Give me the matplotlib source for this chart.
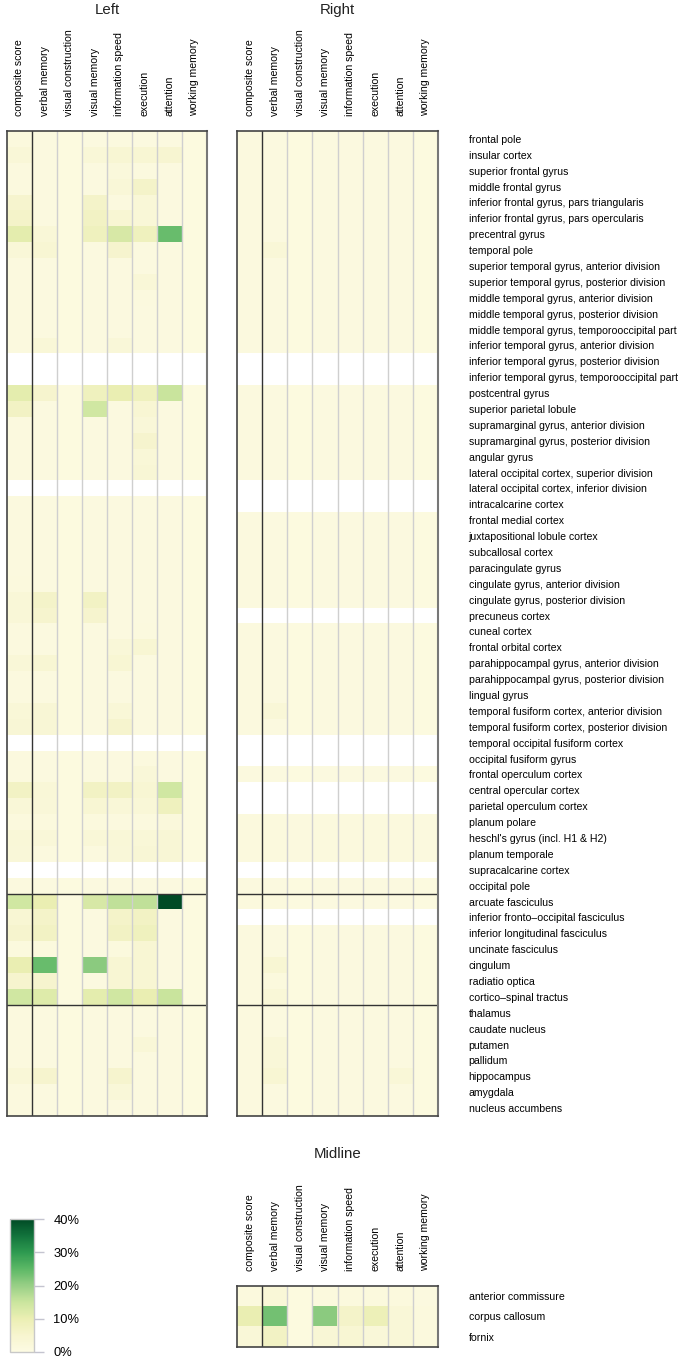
import numpy as np
import matplotlib
matplotlib.use("Agg")
import matplotlib.pyplot as plt
from matplotlib.colors import LinearSegmentedColormap, Normalize
from matplotlib.cm import ScalarMappable

plt.rcParams['font.family'] = ['Liberation Sans', 'DejaVu Sans']
plt.rcParams['text.color'] = '#222222'

# ---- data -------------------------------------------------------------
domains = ["composite score", "verbal memory", "visual construction", "visual memory",
           "information speed", "execution", "attention", "working memory"]

regions = [
    "frontal pole", "insular cortex", "superior frontal gyrus", "middle frontal gyrus",
    "inferior frontal gyrus, pars triangularis", "inferior frontal gyrus, pars opercularis",
    "precentral gyrus", "temporal pole", "superior temporal gyrus, anterior division",
    "superior temporal gyrus, posterior division", "middle temporal gyrus, anterior division",
    "middle temporal gyrus, posterior division", "middle temporal gyrus, temporooccipital part",
    "inferior temporal gyrus, anterior division", "inferior temporal gyrus, posterior division",
    "inferior temporal gyrus, temporooccipital part", "postcentral gyrus",
    "superior parietal lobule", "supramarginal gyrus, anterior division",
    "supramarginal gyrus, posterior division", "angular gyrus",
    "lateral occipital cortex, superior division", "lateral occipital cortex, inferior division",
    "intracalcarine cortex", "frontal medial cortex", "juxtapositional lobule cortex",
    "subcallosal cortex", "paracingulate gyrus", "cingulate gyrus, anterior division",
    "cingulate gyrus, posterior division", "precuneus cortex", "cuneal cortex",
    "frontal orbital cortex", "parahippocampal gyrus, anterior division",
    "parahippocampal gyrus, posterior division", "lingual gyrus",
    "temporal fusiform cortex, anterior division", "temporal fusiform cortex, posterior division",
    "temporal occipital fusiform cortex", "occipital fusiform gyrus", "frontal operculum cortex",
    "central opercular cortex", "parietal operculum cortex", "planum polare",
    "heschl's gyrus (incl. H1 & H2)", "planum temporale", "supracalcarine cortex",
    "occipital pole",
    "arcuate fasciculus", "inferior fronto\u2013occipital fasciculus",
    "inferior longitudinal fasciculus", "uncinate fasciculus", "cingulum", "radiatio optica",
    "cortico\u2013spinal tractus",
    "thalamus", "caudate nucleus", "putamen", "pallidum", "hippocampus", "amygdala",
    "nucleus accumbens",
]
group_breaks = [48, 55]

midline_regions = ["anterior commissure", "corpus callosum", "fornix"]

NA = np.nan
# percent of patients with lesion in region among impaired, per domain
left_values = [
    [1.5, 1.0, 0.8, 1.0, 1.2, 1.0, 1.0, 0.8],
    [3.0, 1.0, 0.8, 3.0, 4.0, 4.0, 4.5, 0.8],
    [1.2, 1.0, 0.8, 1.0, 2.0, 1.2, 1.0, 0.8],
    [1.2, 1.0, 0.8, 1.0, 3.0, 6.0, 1.0, 0.8],
    [5.0, 1.0, 0.8, 6.0, 1.2, 3.0, 1.0, 0.8],
    [6.0, 1.0, 0.8, 7.0, 4.0, 3.0, 1.0, 0.8],
    [11.0, 3.0, 0.8, 8.0, 13.0, 8.0, 24.0, 0.8],
    [3.0, 4.0, 0.8, 1.0, 5.0, 1.0, 1.0, 0.8],
    [1.2, 1.0, 0.8, 1.0, 1.0, 1.0, 1.0, 0.8],
    [1.2, 1.0, 0.8, 1.0, 1.0, 3.0, 1.0, 0.8],
    [1.2, 1.0, 0.8, 1.0, 1.0, 1.2, 1.0, 0.8],
    [1.2, 1.0, 0.8, 1.0, 1.0, 1.0, 1.0, 0.8],
    [1.2, 1.0, 0.8, 1.0, 1.0, 1.0, 1.0, 0.8],
    [1.2, 3.0, 0.8, 1.0, 2.5, 1.0, 1.0, 0.8],
    [NA, NA, NA, NA, NA, NA, NA, NA],
    [NA, NA, NA, NA, NA, NA, NA, NA],
    [11.0, 5.0, 0.8, 8.0, 10.0, 8.0, 15.0, 0.8],
    [7.0, 1.0, 0.8, 14.0, 1.0, 4.0, 1.0, 0.8],
    [1.2, 1.0, 0.8, 1.0, 1.0, 2.5, 1.0, 0.8],
    [1.2, 1.0, 0.8, 1.0, 1.0, 5.0, 1.0, 0.8],
    [1.2, 1.0, 0.8, 1.0, 1.0, 3.0, 1.0, 0.8],
    [1.2, 1.0, 0.8, 1.0, 1.0, 3.5, 1.0, 0.8],
    [NA, NA, NA, NA, NA, NA, NA, NA],
    [1.2, 1.0, 0.8, 1.0, 1.0, 1.0, 1.0, 0.8],
    [1.2, 1.0, 0.8, 1.0, 1.0, 1.0, 1.0, 0.8],
    [1.2, 1.0, 0.8, 1.0, 1.0, 1.0, 1.0, 0.8],
    [1.2, 1.0, 0.8, 1.0, 1.0, 1.0, 1.0, 0.8],
    [1.2, 1.0, 0.8, 1.0, 1.0, 1.0, 1.0, 0.8],
    [1.5, 1.0, 0.8, 1.0, 1.0, 1.0, 1.0, 0.8],
    [3.0, 6.0, 0.8, 7.0, 1.0, 1.0, 1.0, 0.8],
    [3.0, 5.0, 0.8, 5.0, 1.0, 1.0, 1.0, 0.8],
    [1.2, 1.0, 0.8, 1.0, 1.0, 1.2, 1.0, 0.8],
    [1.2, 1.0, 0.8, 1.0, 2.5, 4.0, 1.0, 0.8],
    [3.0, 4.0, 0.8, 1.0, 4.0, 1.0, 1.0, 0.8],
    [1.2, 1.0, 0.8, 1.0, 1.0, 1.0, 1.0, 0.8],
    [1.2, 1.0, 0.8, 1.0, 1.0, 1.0, 1.0, 0.8],
    [3.0, 3.5, 0.8, 1.0, 3.0, 1.0, 1.0, 0.8],
    [3.5, 3.5, 0.8, 1.0, 5.0, 1.0, 1.0, 0.8],
    [NA, NA, NA, NA, NA, NA, NA, NA],
    [1.2, 1.0, 0.8, 1.0, 1.0, 1.2, 1.0, 0.8],
    [1.2, 1.0, 0.8, 1.0, 1.0, 2.5, 1.0, 0.8],
    [7.0, 3.0, 0.8, 7.0, 7.0, 4.0, 14.0, 0.8],
    [3.0, 2.5, 0.8, 4.0, 3.0, 3.0, 8.0, 0.8],
    [1.5, 1.5, 0.8, 1.5, 1.2, 1.2, 2.0, 0.8],
    [3.0, 2.5, 0.8, 3.0, 3.0, 3.0, 3.5, 0.8],
    [2.5, 1.2, 0.8, 1.2, 2.5, 3.5, 3.5, 0.8],
    [NA, NA, NA, NA, NA, NA, NA, NA],
    [1.2, 1.0, 0.8, 1.0, 1.0, 1.0, 1.0, 0.8],
    [14.0, 10.0, 0.8, 13.0, 16.0, 16.0, 40.0, 0.8],
    [4.0, 6.0, 0.8, 1.0, 6.0, 7.0, 1.0, 0.8],
    [5.0, 7.0, 0.8, 1.0, 7.0, 8.0, 1.0, 0.8],
    [1.5, 1.5, 0.8, 1.0, 1.5, 4.0, 1.0, 0.8],
    [10.0, 24.0, 0.8, 21.0, 4.0, 4.0, 1.0, 0.8],
    [5.0, 5.0, 0.8, 1.0, 4.0, 4.0, 1.0, 0.8],
    [14.0, 12.0, 0.8, 11.0, 14.0, 10.0, 15.0, 0.8],
    [1.2, 1.0, 0.8, 1.0, 1.0, 1.0, 1.0, 0.8],
    [1.2, 1.0, 0.8, 1.0, 1.0, 1.0, 1.0, 0.8],
    [1.2, 1.0, 0.8, 1.0, 1.0, 3.0, 1.0, 0.8],
    [1.2, 1.0, 0.8, 1.0, 1.0, 1.0, 1.0, 0.8],
    [3.0, 5.0, 0.8, 1.0, 5.0, 1.0, 1.0, 0.8],
    [1.2, 1.0, 0.8, 1.0, 2.5, 1.0, 1.0, 0.8],
    [1.2, 1.0, 0.8, 1.0, 1.0, 1.0, 1.0, 0.8],
]

right_values = [
    [1.2, 1.0, 0.8, 1.0, 1.0, 1.0, 1.0, 0.8],
    [1.2, 1.0, 0.8, 1.0, 1.0, 1.0, 1.0, 0.8],
    [1.2, 1.0, 0.8, 1.0, 1.0, 1.0, 1.0, 0.8],
    [1.2, 1.0, 0.8, 1.0, 1.0, 1.0, 1.0, 0.8],
    [1.2, 1.0, 0.8, 1.0, 1.0, 1.0, 1.0, 0.8],
    [1.2, 1.0, 0.8, 1.0, 1.0, 1.0, 1.0, 0.8],
    [1.2, 1.0, 0.8, 1.0, 1.0, 1.0, 1.0, 0.8],
    [1.2, 3.0, 0.8, 1.0, 1.0, 1.0, 1.0, 0.8],
    [1.2, 1.0, 0.8, 1.0, 1.0, 1.0, 1.0, 0.8],
    [1.2, 1.0, 0.8, 1.0, 1.0, 1.0, 1.0, 0.8],
    [1.2, 1.0, 0.8, 1.0, 1.0, 1.0, 1.0, 0.8],
    [1.2, 1.0, 0.8, 1.0, 1.0, 1.0, 1.0, 0.8],
    [1.2, 1.0, 0.8, 1.0, 1.0, 1.0, 1.0, 0.8],
    [1.2, 1.0, 0.8, 1.0, 1.0, 1.0, 1.0, 0.8],
    [NA, NA, NA, NA, NA, NA, NA, NA],
    [NA, NA, NA, NA, NA, NA, NA, NA],
    [1.2, 1.0, 0.8, 1.0, 1.0, 1.0, 1.0, 0.8],
    [1.2, 1.0, 0.8, 1.0, 1.0, 1.0, 1.0, 0.8],
    [1.2, 1.0, 0.8, 1.0, 1.0, 1.0, 1.0, 0.8],
    [1.2, 1.0, 0.8, 1.0, 1.0, 1.0, 1.0, 0.8],
    [1.2, 1.0, 0.8, 1.0, 1.0, 1.0, 1.0, 0.8],
    [1.2, 1.0, 0.8, 1.0, 1.0, 1.0, 1.0, 0.8],
    [NA, NA, NA, NA, NA, NA, NA, NA],
    [NA, NA, NA, NA, NA, NA, NA, NA],
    [1.2, 1.0, 0.8, 1.0, 1.0, 1.0, 1.0, 0.8],
    [1.2, 1.0, 0.8, 1.0, 1.0, 1.0, 1.0, 0.8],
    [1.2, 1.0, 0.8, 1.0, 1.0, 1.0, 1.0, 0.8],
    [1.2, 1.0, 0.8, 1.0, 1.0, 1.0, 1.0, 0.8],
    [1.2, 1.0, 0.8, 1.0, 1.0, 1.0, 1.0, 0.8],
    [1.2, 1.0, 0.8, 1.0, 1.0, 1.0, 1.0, 0.8],
    [NA, NA, NA, NA, NA, NA, NA, NA],
    [1.2, 1.0, 0.8, 1.0, 1.0, 1.0, 1.0, 0.8],
    [1.2, 1.0, 0.8, 1.0, 1.0, 1.0, 1.0, 0.8],
    [1.2, 1.0, 0.8, 1.0, 1.0, 1.0, 1.0, 0.8],
    [1.2, 1.0, 0.8, 1.0, 1.0, 1.0, 1.0, 0.8],
    [1.2, 1.0, 0.8, 1.0, 1.0, 1.0, 1.0, 0.8],
    [1.2, 3.0, 0.8, 1.0, 1.0, 1.0, 1.0, 0.8],
    [1.2, 1.0, 0.8, 1.0, 1.0, 1.0, 1.0, 0.8],
    [NA, NA, NA, NA, NA, NA, NA, NA],
    [NA, NA, NA, NA, NA, NA, NA, NA],
    [1.2, 1.0, 0.8, 1.0, 1.0, 1.0, 1.0, 0.8],
    [NA, NA, NA, NA, NA, NA, NA, NA],
    [NA, NA, NA, NA, NA, NA, NA, NA],
    [1.5, 1.5, 1.2, 1.5, 1.5, 1.5, 1.5, 1.2],
    [1.5, 1.5, 1.2, 1.5, 1.5, 1.5, 1.5, 1.2],
    [1.5, 1.5, 1.2, 1.5, 1.5, 1.5, 1.5, 1.2],
    [NA, NA, NA, NA, NA, NA, NA, NA],
    [1.2, 1.0, 0.8, 1.0, 1.0, 1.0, 1.0, 0.8],
    [1.5, 1.5, 0.8, 1.0, 1.0, 1.0, 1.0, 0.8],
    [NA, NA, NA, NA, NA, NA, NA, NA],
    [1.2, 1.0, 0.8, 1.0, 1.0, 1.0, 1.0, 0.8],
    [1.2, 1.0, 0.8, 1.0, 1.0, 1.0, 1.0, 0.8],
    [1.2, 4.0, 0.8, 1.0, 1.0, 1.0, 1.0, 0.8],
    [1.2, 1.5, 0.8, 1.0, 1.0, 1.0, 1.0, 0.8],
    [1.2, 3.0, 0.8, 1.0, 1.0, 1.0, 1.0, 0.8],
    [1.2, 1.0, 0.8, 1.0, 1.0, 1.0, 1.0, 0.8],
    [1.2, 1.0, 0.8, 1.0, 1.0, 1.0, 1.0, 0.8],
    [1.2, 2.5, 0.8, 1.0, 1.0, 1.0, 1.0, 0.8],
    [1.2, 2.5, 0.8, 1.0, 1.0, 1.0, 1.0, 0.8],
    [1.2, 4.0, 0.8, 1.0, 1.0, 1.0, 3.0, 0.8],
    [1.2, 1.0, 0.8, 1.0, 1.0, 1.0, 1.0, 0.8],
    [1.2, 1.0, 0.8, 1.0, 1.0, 1.0, 1.0, 0.8],
]

midline_values = [
    [1.5, 3.0, 0.8, 1.5, 1.5, 1.5, 1.5, 1.0],
    [10.0, 23.0, 0.8, 21.0, 6.0, 9.0, 3.0, 1.5],
    [3.0, 7.0, 0.8, 3.5, 4.0, 2.5, 3.0, 1.5],
]

vmax = 40
cbar_ticks = [0, 10, 20, 30, 40]

# colour scale (pale cream -> dark green)
cmap = LinearSegmentedColormap.from_list("lesion", [
    (0.0, "#fdfbe3"), (0.125, "#f7f5cf"), (0.25, "#ebefb3"), (0.375, "#cae59e"),
    (0.5, "#98cf86"), (0.625, "#5cb866"), (0.75, "#2e9a50"), (0.875, "#12733c"),
    (1.0, "#004a25")])
cmap.set_bad("white")
norm = Normalize(0, vmax)

W, H = 685, 1362
fig = plt.figure(figsize=(W / 100, H / 100), dpi=100)


def px_axes(x0, y0, x1, y1):
    return fig.add_axes([x0 / W, 1 - y1 / H, (x1 - x0) / W, (y1 - y0) / H])


def draw_panel(ax, vals, breaks, title, title_y, row_labels=None):
    vals = np.array(vals, dtype=float)
    nr, nc = vals.shape
    ax.imshow(vals, cmap=cmap, norm=norm, aspect="auto", interpolation="nearest",
              extent=(-0.5, nc - 0.5, nr - 0.5, -0.5))
    for j in range(1, nc):
        if j == 1:
            ax.axvline(j - 0.5, color="#333333", lw=1.0)
        else:
            ax.axvline(j - 0.5, color="#cfcfcf", lw=1.0)
    for b in breaks:
        ax.axhline(b - 0.5, color="#333333", lw=1.0)
    for s in ax.spines.values():
        s.set_color("#444444")
        s.set_linewidth(1.2)
    ax.spines["right"].set_color("#777777")
    ax.spines["right"].set_linewidth(1.5)
    ax.set_xticks(range(nc))
    ax.set_xticklabels(domains, rotation=90, fontsize=7.6)
    ax.xaxis.tick_top()
    ax.tick_params(axis="x", length=0, pad=11)
    if row_labels is not None:
        ax.yaxis.tick_right()
        ax.set_yticks(range(nr))
        ax.set_yticklabels(row_labels, fontsize=7.6)
        ax.tick_params(axis="y", length=0, pad=22)
    else:
        ax.set_yticks([])
    ax.set_xlim(-0.5, nc - 0.5)
    ax.set_ylim(nr - 0.5, -0.5)
    bb = ax.get_position()
    fig.text((bb.x0 + bb.x1) / 2, 1 - title_y / H, title, ha="center", va="center",
             fontsize=10.8)


ax_left = px_axes(7, 131, 207, 1116)
draw_panel(ax_left, left_values, group_breaks, "Left", 10)

ax_right = px_axes(237, 131, 438, 1116)
draw_panel(ax_right, right_values, group_breaks, "Right", 10, regions)

ax_mid = px_axes(237, 1286, 438, 1347)
draw_panel(ax_mid, midline_values, [], "Midline", 1154, midline_regions)

# colour bar
cax = px_axes(10, 1219, 34, 1352)
cb = fig.colorbar(ScalarMappable(norm=norm, cmap=cmap), cax=cax, ticks=cbar_ticks)
cb.set_ticklabels([f"{t}%" for t in cbar_ticks])
cb.outline.set_edgecolor("#c8c8c8")
cb.outline.set_linewidth(1.0)
cax.tick_params(length=7, width=1, color="#c4c4d0", labelsize=9.3, pad=7)

fig.savefig("out.png", dpi=100)
